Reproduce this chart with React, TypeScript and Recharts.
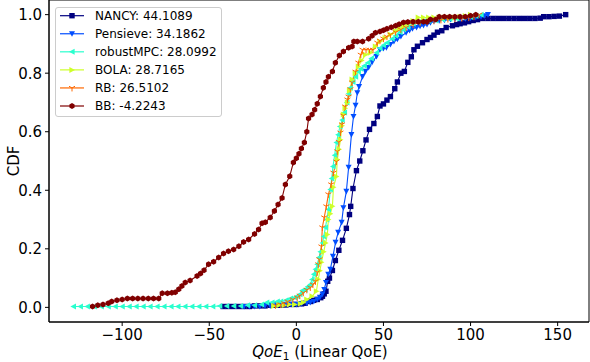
import React from 'react';
import { LineChart, Line, XAxis, YAxis, ReferenceArea } from 'recharts';

type Pt = [number, number];
type MarkerKind = 'square' | 'tdown' | 'tleft' | 'tright' | 'tri' | 'hex';

// QoE value vs CDF
const nancy: Pt[] = [
  [-42, 0.003], [-39, 0.003], [-36, 0.003], [-33, 0.003], [-30, 0.003], [-27, 0.003], [-24, 0.005], [-21, 0.005],
  [-18, 0.005], [-15, 0.007], [-12, 0.007], [-9, 0.007], [-6, 0.008], [-3, 0.01], [0, 0.01], [3, 0.012], [5, 0.014],
  [8, 0.02], [10, 0.024], [12, 0.027], [14, 0.033], [15, 0.038], [16, 0.046], [17, 0.055], [18, 0.089], [19, 0.1],
  [20.7, 0.126], [22.4, 0.16], [24.4, 0.195], [26.5, 0.229], [28.7, 0.27], [30.5, 0.317], [31.2, 0.345], [32.5, 0.406],
  [34.5, 0.467], [36.4, 0.5], [38.2, 0.535], [40, 0.572], [42, 0.608], [44.5, 0.628], [46.5, 0.652], [48, 0.688],
  [50, 0.695], [52, 0.708], [54, 0.72], [56.5, 0.747], [58, 0.77], [60, 0.8], [62, 0.806], [64, 0.837], [66, 0.856],
  [67.5, 0.88], [69.5, 0.892], [72.4, 0.904], [75, 0.915], [77, 0.922], [79, 0.93], [81, 0.94], [83.5, 0.945],
  [86, 0.956], [89.6, 0.962], [92, 0.966], [94, 0.969], [96.5, 0.972], [98.9, 0.976], [101.5, 0.98], [104, 0.983],
  [107, 0.987], [110, 0.987], [113, 0.987], [116, 0.987], [119, 0.987], [122, 0.987], [125, 0.987], [128, 0.987],
  [131, 0.987], [134, 0.987], [137, 0.987], [140, 0.988], [142, 0.993], [145, 0.993], [148, 0.994], [151, 0.995],
  [154.6, 1.0],
];

const pensieve: Pt[] = [
  [-30, 0.003], [-27, 0.003], [-24, 0.003], [-21, 0.003], [-18, 0.005], [-15, 0.005], [-12, 0.007], [-9, 0.007],
  [-6, 0.01], [-3, 0.01], [0, 0.01], [3, 0.012], [6, 0.014], [8, 0.017], [10, 0.02], [12, 0.027], [13.5, 0.034],
  [15, 0.045], [16, 0.061], [17, 0.085], [18.3, 0.113], [19.5, 0.13], [21, 0.174], [22.5, 0.222], [24, 0.256],
  [26, 0.29], [27, 0.34], [28.7, 0.396], [30, 0.478], [31.6, 0.59], [32.8, 0.652], [34, 0.69], [35, 0.733],
  [36, 0.754], [38, 0.788], [39.7, 0.806], [41.5, 0.819], [43.5, 0.837], [46, 0.857], [48, 0.88], [50, 0.884],
  [51.7, 0.887], [54, 0.898], [56, 0.908], [58, 0.916], [60, 0.925], [63, 0.938], [65, 0.946], [66.7, 0.952],
  [69, 0.956], [71, 0.96], [73, 0.963], [75, 0.966], [77, 0.972], [79, 0.977], [82, 0.979], [85, 0.981],
  [88.5, 0.983], [91, 0.984], [94, 0.985], [97, 0.986], [100, 0.988], [103, 0.99], [106, 0.993], [108, 0.996],
  [110, 1.0],
];

const robustMPC: Pt[] = [
  [-128, 0.003], [-124, 0.003], [-120, 0.003], [-116, 0.003], [-112, 0.003], [-108, 0.003], [-104, 0.003],
  [-100, 0.003], [-96, 0.003], [-92, 0.003], [-88, 0.003], [-84, 0.003], [-80, 0.003], [-76, 0.003], [-72, 0.003],
  [-68, 0.003], [-64, 0.003], [-60, 0.003], [-56, 0.003], [-52, 0.003], [-48, 0.003], [-44, 0.005], [-40, 0.005],
  [-36, 0.005], [-32, 0.005], [-28, 0.007], [-24, 0.007], [-20, 0.01], [-17, 0.017], [-14, 0.017], [-11, 0.02],
  [-9, 0.02], [-6, 0.024], [-3.4, 0.03], [-1, 0.034], [0.5, 0.038], [2, 0.045], [3.4, 0.058], [5, 0.061],
  [6.5, 0.07], [8, 0.078], [9, 0.095], [10, 0.113], [11, 0.13], [12, 0.147], [13, 0.17], [13.8, 0.19], [15, 0.22],
  [15.7, 0.242], [16.7, 0.273], [17.5, 0.3], [18.4, 0.334], [19.5, 0.403], [20.3, 0.44], [21, 0.481], [22, 0.52],
  [23, 0.563], [24, 0.59], [25, 0.618], [26.3, 0.64], [27.6, 0.666], [29, 0.7], [30, 0.73], [31, 0.75],
  [32.5, 0.77], [34, 0.788], [35.6, 0.805], [37, 0.815], [39, 0.825], [41, 0.836], [43, 0.85], [46, 0.87],
  [48, 0.885], [50, 0.895], [52, 0.904], [55, 0.918], [57, 0.928], [59.5, 0.94], [61.5, 0.949], [64, 0.958],
  [67, 0.969], [70, 0.974], [73, 0.977], [76, 0.979], [80, 0.98], [84, 0.983], [88, 0.985], [92, 0.987],
  [96, 0.99], [100, 0.992], [103, 0.995], [106, 1.0],
];

const bola: Pt[] = [
  [-13, 0.005], [-10, 0.007], [-7, 0.007], [-4, 0.01], [-1, 0.01], [2.3, 0.012], [4, 0.017], [6, 0.027], [9, 0.038],
  [11.5, 0.055], [12.6, 0.096], [13.5, 0.125], [14.4, 0.154], [15.7, 0.19], [16.8, 0.22], [17.8, 0.249], [18.4, 0.3],
  [19.5, 0.32], [20.7, 0.345], [21.3, 0.41], [23, 0.447], [23.5, 0.505], [24.5, 0.54], [25.3, 0.573], [26.2, 0.62],
  [27, 0.659], [28, 0.68], [29.3, 0.7], [30.5, 0.74], [32, 0.778], [33.8, 0.8], [35.6, 0.823], [37.5, 0.843],
  [39.7, 0.863], [42.5, 0.87], [45.4, 0.891], [48, 0.908], [51, 0.92], [54, 0.932], [57, 0.945], [59, 0.953],
  [61.5, 0.96], [64, 0.968], [67, 0.978], [70, 0.99], [73, 0.99], [76, 0.99], [79, 0.99], [82, 0.99], [85, 0.99],
  [88, 0.99], [91, 0.99], [94, 0.993], [97, 0.995], [100, 1.0],
];

const rb: Pt[] = [
  [-12, 0.007], [-9, 0.01], [-7, 0.014], [-5, 0.02], [-2, 0.027], [0.5, 0.034], [2, 0.04], [4, 0.05], [6, 0.06],
  [8, 0.068], [9.5, 0.078], [11, 0.089], [12, 0.12], [12.6, 0.147], [13.2, 0.164], [14.4, 0.208], [14.9, 0.273],
  [16, 0.307], [17.2, 0.345], [18.4, 0.386], [20, 0.42], [21.3, 0.46], [23, 0.498], [23.5, 0.533], [24.4, 0.565],
  [25.3, 0.597], [26.2, 0.625], [27, 0.655], [28, 0.686], [29.3, 0.71], [30, 0.72], [31, 0.745], [32, 0.768],
  [34, 0.805], [35.6, 0.836], [37, 0.863], [38, 0.88], [40, 0.88], [42, 0.88], [44, 0.88], [46.5, 0.904],
  [48, 0.911], [50, 0.918], [52, 0.925], [54, 0.932], [57, 0.94], [60, 0.949], [63, 0.956], [67, 0.966],
  [71, 0.972], [75, 0.976], [79, 0.979], [83, 0.982], [87, 0.985], [91, 0.986], [95, 0.988], [99, 0.99],
  [102, 0.993], [105, 1.0],
];

const bb: Pt[] = [
  [-117, 0.003], [-114, 0.007], [-111, 0.01], [-108, 0.014], [-106, 0.02], [-103, 0.024], [-100, 0.027],
  [-97, 0.03], [-94, 0.03], [-91, 0.03], [-88, 0.03], [-85, 0.03], [-82, 0.03], [-79, 0.03], [-77, 0.048],
  [-74, 0.048], [-71.5, 0.05], [-69.5, 0.052], [-67.5, 0.062], [-65.7, 0.073], [-63.8, 0.085], [-61, 0.092],
  [-57, 0.107], [-55, 0.116], [-53, 0.127], [-50.4, 0.147], [-47.5, 0.156], [-44.6, 0.17], [-41.8, 0.184],
  [-39, 0.192], [-36, 0.198], [-33, 0.209], [-30.3, 0.223], [-27.4, 0.232], [-24, 0.251], [-21.7, 0.266],
  [-19.7, 0.287], [-17.8, 0.291], [-15, 0.307], [-12.6, 0.329], [-10.5, 0.351], [-8.2, 0.374], [-6.3, 0.42],
  [-3.8, 0.448], [-1.7, 0.495], [0, 0.509], [1.5, 0.525], [2.9, 0.543], [4.6, 0.563], [6, 0.6], [7, 0.645],
  [9, 0.659], [10.5, 0.675], [12, 0.696], [13.8, 0.72], [15.5, 0.75], [17, 0.77], [18.4, 0.788], [20.7, 0.806],
  [22.4, 0.836], [24.7, 0.86], [27, 0.874], [30, 0.887], [32, 0.891], [33, 0.908], [35, 0.908], [38, 0.908],
  [41.5, 0.918], [43.5, 0.928], [45.4, 0.938], [48, 0.942], [50, 0.947], [52, 0.952], [54.5, 0.957], [57, 0.962],
  [59, 0.967], [61.5, 0.973], [64, 0.975], [67, 0.976], [70, 0.976], [73, 0.976], [75, 0.976], [77, 0.983],
  [80, 0.983], [82, 0.993], [85, 0.993], [88, 0.993], [91, 0.993], [94, 0.993], [97, 0.993], [100, 0.996],
  [103, 1.0],
];

const seriesNames = ['NANCY', 'Pensieve', 'robustMPC', 'BOLA', 'RB', 'BB'];
const seriesScores = ['44.1089', '34.1862', '28.0992', '28.7165', '26.5102', '-4.2243'];
const seriesData = [nancy, pensieve, robustMPC, bola, rb, bb];
const seriesColors = ['#000080', '#004dff', '#29ffce', '#ceff29', '#ff6800', '#800000'];
const seriesMarkers: MarkerKind[] = ['square', 'tdown', 'tleft', 'tright', 'tri', 'hex'];

const xTicks = [-100, -50, 0, 50, 100, 150];
const yTicks = [0, 0.2, 0.4, 0.6, 0.8, 1.0];
const X_DOMAIN: [number, number] = [-142, 168];
const Y_DOMAIN: [number, number] = [-0.05, 1.05];

const FONT = '"DejaVu Sans", sans-serif';

const Marker = ({ kind, cx, cy, color }: { kind: MarkerKind; cx: number; cy: number; color: string }) => {
  switch (kind) {
    case 'square':
      return <rect x={cx - 2.7} y={cy - 2.7} width={5.4} height={5.4} fill={color} />;
    case 'tdown':
      return <polygon points={`${cx - 3},${cy - 2.6} ${cx + 3},${cy - 2.6} ${cx},${cy + 3}`} fill={color} />;
    case 'tleft':
      return <polygon points={`${cx - 3},${cy} ${cx + 2.6},${cy - 3} ${cx + 2.6},${cy + 3}`} fill={color} />;
    case 'tright':
      return <polygon points={`${cx + 3},${cy} ${cx - 2.6},${cy - 3} ${cx - 2.6},${cy + 3}`} fill={color} />;
    case 'tri':
      return (
        <path
          d={`M${cx},${cy} L${cx},${cy + 3.5} M${cx},${cy} L${cx - 3},${cy - 1.7} M${cx},${cy} L${cx + 3},${cy - 1.7}`}
          stroke={color}
          strokeWidth={1}
          fill="none"
        />
      );
    case 'hex': {
      const r = 3;
      const pts = [0, 1, 2, 3, 4, 5]
        .map((k) => {
          const a = ((90 + 60 * k) * Math.PI) / 180;
          return `${cx + r * Math.cos(a)},${cy - r * Math.sin(a)}`;
        })
        .join(' ');
      return <polygon points={pts} fill={color} />;
    }
    default:
      return null;
  }
};

const fmtX = (v: number) => String(v).replace('-', '\u2212');
const fmtY = (v: number) => v.toFixed(1);

const LegendBox = () => (
  <div
    style={{
      position: 'absolute',
      left: 55,
      top: 7,
      width: 167,
      height: 110,
      boxSizing: 'border-box',
      border: '1px solid #cccccc',
      borderRadius: 3,
      background: 'rgba(255,255,255,0.8)',
    }}
  >
    <svg width={165} height={108}>
      {seriesNames.map((name, i) => {
        const cy = 7.7 + 18.06 * i;
        return (
          <g key={name}>
            <line x1={4} x2={28} y1={cy} y2={cy} stroke={seriesColors[i]} strokeWidth={1.2} />
            <Marker kind={seriesMarkers[i]} cx={16} cy={cy} color={seriesColors[i]} />
            <text x={39} y={cy + 4.4} fontSize={12} fontFamily={FONT} fill="#000">
              {`${name}: ${seriesScores[i]}`}
            </text>
          </g>
        );
      })}
    </svg>
  </div>
);

const App: React.FC = () => {
  return (
    <div style={{ position: 'absolute', left: 0, top: 0, width: 590, height: 362, background: '#fff' }}>
      <LineChart width={590} height={362} margin={{ top: 0, right: 1, bottom: 0, left: 0 }}>
        <XAxis
          type="number"
          dataKey="x"
          domain={X_DOMAIN}
          ticks={xTicks}
          allowDataOverflow
          tickFormatter={fmtX}
          height={40}
          tickSize={4}
          tickMargin={3}
          axisLine={{ stroke: '#000' }}
          tickLine={{ stroke: '#000' }}
          tick={{ fill: '#000', fontSize: 15, fontFamily: FONT }}
        />
        <YAxis
          type="number"
          dataKey="y"
          domain={Y_DOMAIN}
          ticks={yTicks}
          allowDataOverflow
          tickFormatter={fmtY}
          width={49}
          tickSize={4}
          tickMargin={3}
          axisLine={{ stroke: '#000' }}
          tickLine={{ stroke: '#000' }}
          tick={{ fill: '#000', fontSize: 15, fontFamily: FONT }}
        />
        <ReferenceArea
          x1={X_DOMAIN[0]}
          x2={X_DOMAIN[1]}
          y1={Y_DOMAIN[0]}
          y2={Y_DOMAIN[1]}
          fill="none"
          stroke="#000"
          strokeWidth={1}
        />
        {seriesData.map((pts, i) => (
          <Line
            key={seriesNames[i]}
            data={pts.map(([x, y]) => ({ x, y }))}
            dataKey="y"
            type="linear"
            stroke={seriesColors[i]}
            strokeWidth={1.1}
            isAnimationActive={false}
            activeDot={false}
            dot={(p: any) =>
              p.cx == null ? (
                <g key={`${seriesNames[i]}-${p.index}`} />
              ) : (
                <Marker
                  key={`${seriesNames[i]}-${p.index}`}
                  kind={seriesMarkers[i]}
                  cx={p.cx}
                  cy={p.cy}
                  color={seriesColors[i]}
                />
              )
            }
          />
        ))}
      </LineChart>
      <svg width={590} height={362} style={{ position: 'absolute', left: 0, top: 0, pointerEvents: 'none' }}>
        <text
          transform="translate(18.5,161) rotate(-90)"
          textAnchor="middle"
          fontSize={15}
          fontFamily={FONT}
          fill="#000"
        >
          CDF
        </text>
        <text x={320} y={357} textAnchor="middle" fontSize={15} fontFamily={FONT} fill="#000">
          <tspan fontStyle="italic">QoE</tspan>
          <tspan fontSize={10.5} dy={3}>1</tspan>
          <tspan dy={-3}> (Linear QoE)</tspan>
        </text>
      </svg>
      <LegendBox />
    </div>
  );
};

export default App;
